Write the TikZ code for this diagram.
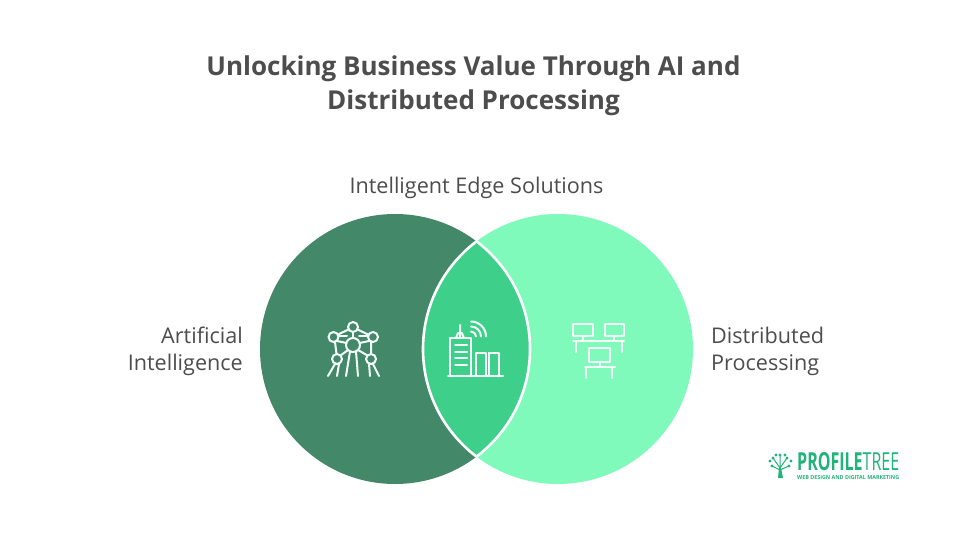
\documentclass[tikz,border=0pt]{standalone}
\usepackage{fontspec}
\setmainfont{Open Sans}
\definecolor{dkgreen}{HTML}{44886A}
\definecolor{ltgreen}{HTML}{7FFABB}
\definecolor{midgreen}{HTML}{3ECF8A}
\definecolor{txt}{HTML}{4D4D4D}
\definecolor{logo}{HTML}{22B37A}
\tikzset{
  venn/.style={circle,minimum size=270pt,inner sep=0pt,outer sep=0pt},
  lbl/.style={text=txt,font=\fontsize{21.6}{27}\selectfont,inner sep=0pt},
  ttl/.style={text=txt,font=\fontsize{26}{34}\selectfont\bfseries,align=center,inner sep=0pt},
  ico/.style={draw=white!92!ltgreen,line width=2pt,line cap=round,line join=round,fill=none}
}
\begin{document}
\begin{tikzpicture}[x=1pt,y=-1pt]
\useasboundingbox[fill=white] (0,0) rectangle (960,540);
\node[venn,fill=dkgreen] (L) at (395,349) {};
\node[venn,fill=ltgreen] (R) at (558,349) {};
\begin{scope}
  \clip (395,349) circle[radius=135];
  \fill[midgreen] (558,349) circle[radius=135];
  \draw[white,line width=2.6pt] (558,349) circle[radius=135];
\end{scope}
\begin{scope}
  \clip (558,349) circle[radius=135];
  \draw[white,line width=2.6pt] (395,349) circle[radius=135];
\end{scope}
\node[ttl] (title) at (473.5,86) {Unlocking Business Value Through AI and\\Distributed Processing};
\node[lbl] (top) at (476.5,188) {Intelligent Edge Solutions};
\node[lbl,align=right,anchor=east] (ai) at (243,351.5) {Artificial\\Intelligence};
\node[lbl,align=left,anchor=west] (dp) at (711,351.5) {Distributed\\Processing};
% atom icon
\begin{scope}[ico]
  \draw (353,327) circle[radius=5];
  \draw (333.5,337) circle[radius=5];
  \draw (373,337) circle[radius=5];
  \draw (353,345) circle[radius=7];
  \draw (337,359) circle[radius=5];
  \draw (371,359) circle[radius=5];
  \draw (348.5,329.5) -- (338,334.5) (357.5,329.5) -- (368,334.5);
  \draw (338.5,336) -- (347,336) (359,336) -- (368,336);
  \draw (353,332) -- (353,338);
  \draw (337,341) -- (346.5,343) (369,341) -- (359.5,343);
  \draw (335,342) -- (336.5,354) (371,342) -- (371,354);
  \draw (348,350) -- (340.5,355.5) (358,350) -- (367.5,355.5);
  \draw (335,364) -- (328,376) (339,364) -- (337,376);
  \draw (369,364) -- (370,376) (373,364) -- (379,376);
  \draw (350,351.5) -- (346,376) (356,351.5) -- (358,376);
\end{scope}
% building icon
\begin{scope}[ico]
  \draw (450,376) -- (450,338) -- (471,338) -- (471,376);
  \draw (448,376) -- (503,376);
  \draw (476,376) -- (476,353) -- (486,353) -- (486,376);
  \draw (489,376) -- (489,353) -- (499,353) -- (499,376);
  \draw (460,325) -- (460,338) (456,338) -- (458,333) -- (462,333) -- (464,338);
  \draw (455,345) -- (467,345) (455,352) -- (467,352) (455,358) -- (467,358) (455,365) -- (467,365);
  \draw (471,331.5) arc[start angle=-90,end angle=0,radius=5];
  \draw (471,326.5) arc[start angle=-90,end angle=0,radius=10];
  \draw (471,321.5) arc[start angle=-90,end angle=0,radius=15];
\end{scope}
% network icon
\begin{scope}[ico]
  \draw (573,324) rectangle (593,336);
  \draw (605,324) rectangle (624,336);
  \draw (583,336) -- (583,341) (614,336) -- (614,341);
  \draw (573,341) -- (624,341);
  \draw (576,341) -- (576,352) (622,341) -- (622,352);
  \draw (589,348) rectangle (610,362);
  \draw (599.5,362) -- (599.5,367);
  \draw (585,367) -- (615,367);
  \draw (586,367) -- (586,378) (612,367) -- (612,378);
\end{scope}
% logo
\begin{scope}[logo,line width=1pt,draw=logo]
  \fill[logo] (779,468) -- (778,478) -- (783,478) -- (781,468) -- cycle;
  \draw (780,468) -- (773,458) (780,468) -- (787,458) (780,470) -- (772,466) (780,470) -- (789,466) (780,466) -- (780,455);
  \foreach \a/\b in {773/458,787/458,772/466,789/466,780/455,776/455,785/455,770/461,791/461}
    \fill[logo] (\a,\b) circle[radius=1.7];
\end{scope}
\node[inner sep=0pt,anchor=west,text=logo] (brand) at (797,462)
  {\resizebox{102pt}{18pt}{\textbf{PROFILE}TREE}};
\node[inner sep=0pt,anchor=west,text=logo] (tag) at (797,478)
  {\resizebox{102pt}{4pt}{\bfseries WEB DESIGN AND DIGITAL MARKETING}};
\end{tikzpicture}
\end{document}
